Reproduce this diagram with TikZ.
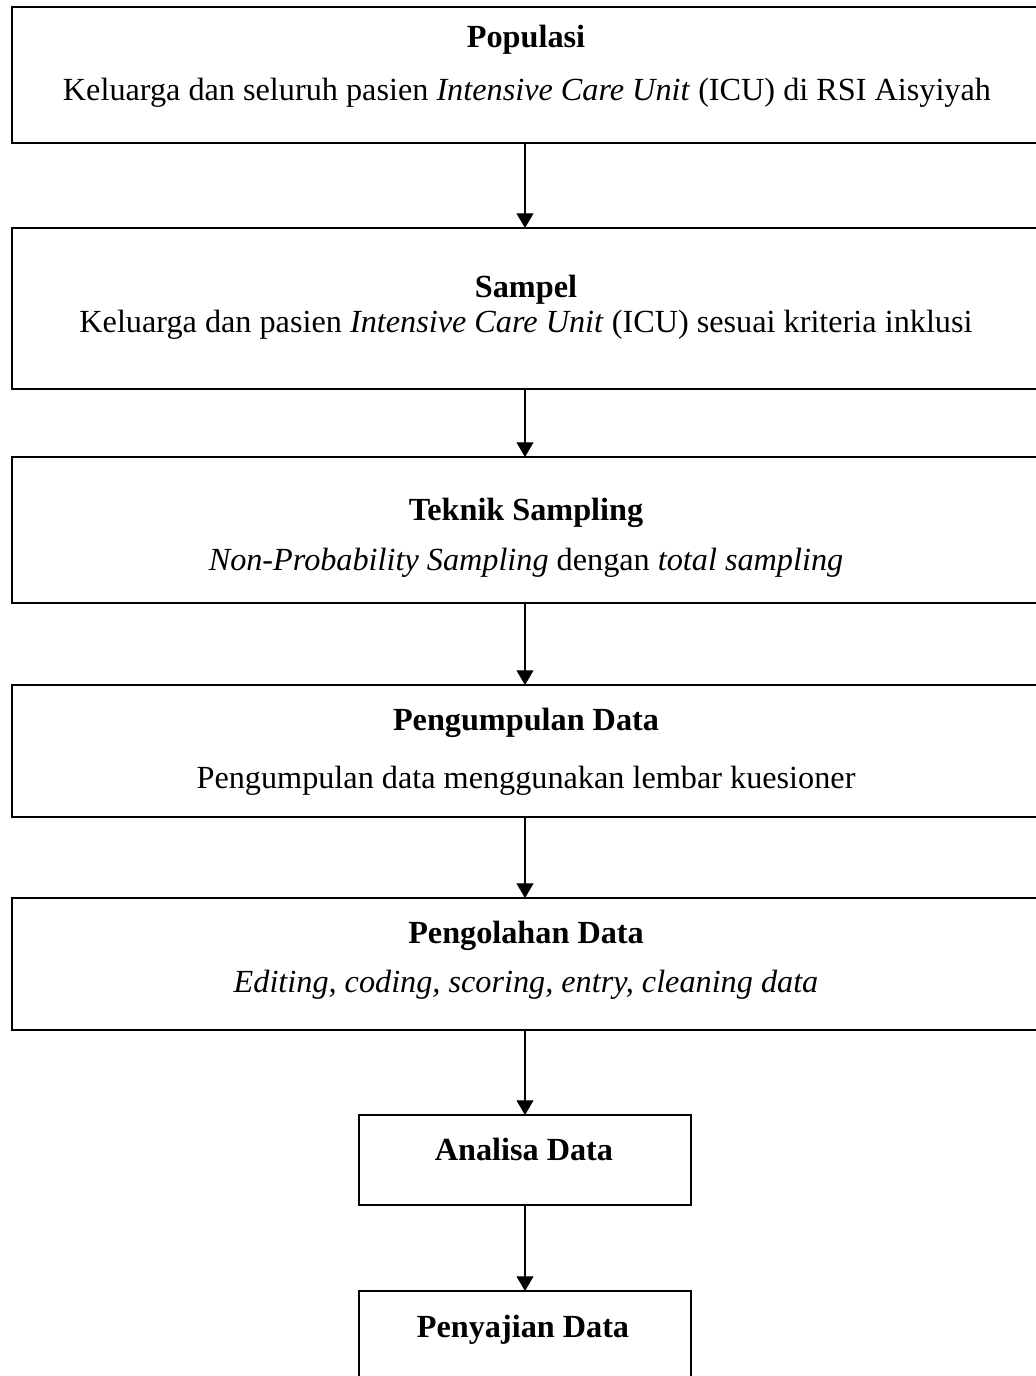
\documentclass[tikz,border=0pt]{standalone}
\usepackage{fontspec}
\setmainfont{Liberation Serif}
\usepackage{tikz}
\usetikzlibrary{arrows.meta,positioning}

\def\pxu{0.0157cm}

\begin{document}
\begin{tikzpicture}[
        x=\pxu, y=-\pxu,
        stagebox/.style={
            rectangle,
            draw=black,
            line width=0.9pt,
            fill=white,
            inner sep=0pt,
            outer sep=0pt
        },
        title/.style={anchor=base, inner sep=0pt, font=\fontsize{14.4}{17}\selectfont\bfseries},
        body/.style={anchor=base, inner sep=0pt, font=\fontsize{14.4}{17}\selectfont},
        flow/.style={-{Triangle[length=6.5pt,width=7.5pt]}, line width=0.45pt, draw=black}
    ]
        \path[use as bounding box, clip] (0,0) rectangle (1036,1376);

        \node[stagebox, minimum width=1026*\pxu, minimum height=136*\pxu] (pop) at (525,75) {};
        \node[stagebox, minimum width=1026*\pxu, minimum height=161*\pxu] (sam) at (525,308.5) {};
        \node[stagebox, minimum width=1026*\pxu, minimum height=146*\pxu] (tek) at (525,530) {};
        \node[stagebox, minimum width=1026*\pxu, minimum height=132*\pxu] (pgp) at (525,751) {};
        \node[stagebox, minimum width=1026*\pxu, minimum height=132*\pxu] (pgo) at (525,964) {};
        \node[stagebox, minimum width=332*\pxu, minimum height=90*\pxu]   (ana) at (525,1160) {};
        \node[stagebox, minimum width=332*\pxu, minimum height=130*\pxu]  (pen) at (525,1356) {};

        \node[title] (popT) at (526,47) {Populasi};
        \node[body]  (popB) at (527,100) {Keluarga dan seluruh pasien \textit{Intensive Care Unit} (ICU) di RSI Aisyiyah};
        \node[title] (samT) at (526,297) {Sampel};
        \node[body]  (samB) at (526,332) {Keluarga dan pasien \textit{Intensive Care Unit} (ICU) sesuai kriteria inklusi};
        \node[title] (tekT) at (526,520) {Teknik Sampling};
        \node[body]  (tekB) at (526,570) {\textit{Non-Probability Sampling} dengan \textit{total sampling}};
        \node[title] (pgpT) at (526,730) {Pengumpulan Data};
        \node[body]  (pgpB) at (526,788) {Pengumpulan data menggunakan lembar kuesioner};
        \node[title] (pgoT) at (526,943) {Pengolahan Data};
        \node[body]  (pgoB) at (526,992) {\textit{Editing, coding, scoring, entry, cleaning data}};
        \node[title] (anaT) at (524,1160) {Analisa Data};
        \node[title] (penT) at (523,1337) {Penyajian Data};

        \draw[flow] (pop.south) -- (sam.north);
        \draw[flow] (sam.south) -- (tek.north);
        \draw[flow] (tek.south) -- (pgp.north);
        \draw[flow] (pgp.south) -- (pgo.north);
        \draw[flow] (pgo.south) -- (ana.north);
        \draw[flow] (ana.south) -- (pen.north);
    \end{tikzpicture}
\end{document}
